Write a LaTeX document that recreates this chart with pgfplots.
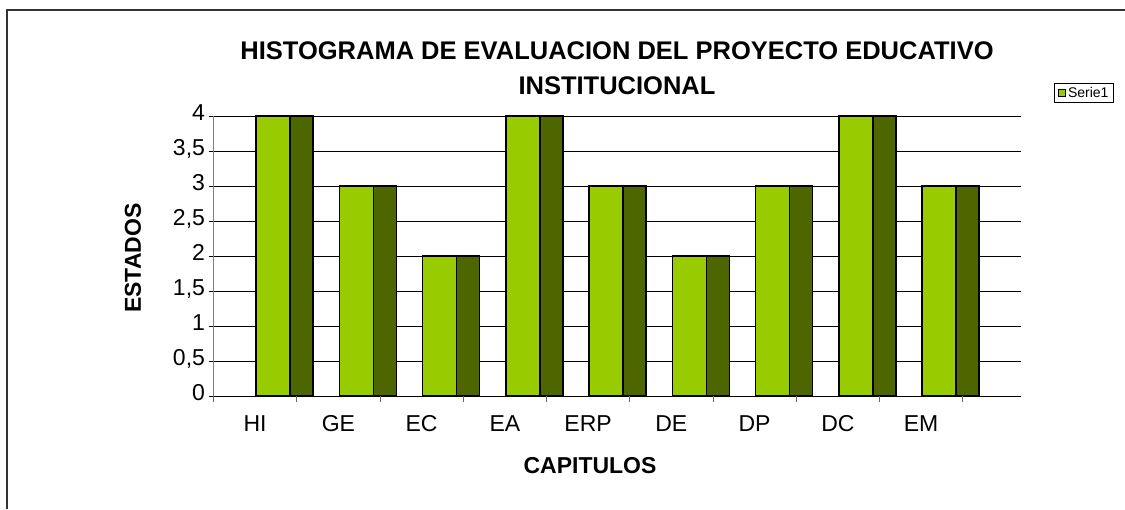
\documentclass[border=0pt]{standalone}
\usepackage{fontspec}
\setmainfont{Liberation Sans}
\usepackage{pgfplots}
\pgfplotsset{compat=1.18}
\definecolor{barfront}{HTML}{99CC00}
\definecolor{barside}{HTML}{4D6600}
\begin{document}
\begin{tikzpicture}[x=1pt,y=1pt]
\useasboundingbox (0pt,0pt) rectangle (1125pt,509pt);
\draw[line width=1.6pt, black!80] (7pt,0pt) -- (7pt,499pt) -- (1125pt,499pt);
\begin{axis}[
  at={(213.5pt,113pt)}, anchor=south west,
  scale only axis, width=807.5pt, height=280pt,
  xmin=-0.5, xmax=9.2, ymin=0, ymax=4,
  axis x line*=bottom, axis y line*=left,
  x axis line style={black, line width=0.8pt, -},
  y axis line style={black!50, line width=0.8pt, -},
  xtick={0,...,8},
  xticklabels={HI,GE,EC,EA,ERP,DE,DP,DC,EM},
  xtick style={draw=none},
  extra x ticks={-0.5,0.5,...,8.5},
  extra x tick labels={},
  extra x tick style={xtick style={draw=black!60, line width=0.6pt}, tick align=outside, major tick length=6pt},
  ytick={0,0.5,...,4},
  ytick style={draw=black, line width=0.6pt},
  tick align=center, major tick length=10pt,
  ymajorgrids,
  grid style={black, line width=0.6pt},
  /pgf/number format/use comma,
  /pgf/number format/fixed,
  /pgf/number format/assume math mode=true,
  tick label style={font=\fontsize{23}{23}\selectfont},
  typeset ticklabels with strut,
  xticklabel style={yshift=-11pt},
  legend style={at={(1.078,1.082)}, anchor=center, draw=black, line width=0.8pt,
    font=\fontsize{14}{14}\selectfont, inner xsep=3pt, inner ysep=2pt},
  legend image code/.code={\draw[fill=barfront, draw=black, line width=1.5pt] (0pt,-3.5pt) rectangle (7pt,3.5pt);},
]
\addplot[ybar, bar width=23pt, bar shift=46.5pt, fill=barside, draw=black, line width=1.6pt, forget plot]
  coordinates {(0,4) (1,3) (2,2) (3,4) (4,3) (5,2) (6,3) (7,4) (8,3)};
\addplot[ybar, bar width=34pt, bar shift=18pt, fill=barfront, draw=black, line width=1.6pt]
  coordinates {(0,4) (1,3) (2,2) (3,4) (4,3) (5,2) (6,3) (7,4) (8,3)};
\addlegendentry{Serie1}
\end{axis}
\node[font=\fontsize{25.5}{25.5}\bfseries\selectfont] at (617pt,458pt) {HISTOGRAMA DE EVALUACION DEL PROYECTO EDUCATIVO};
\node[font=\fontsize{25.5}{25.5}\bfseries\selectfont] at (617pt,423pt) {INSTITUCIONAL};
\node[font=\fontsize{23}{23}\bfseries\selectfont] at (590pt,43pt) {CAPITULOS};
\node[font=\fontsize{23}{23}\bfseries\selectfont, rotate=90] at (133pt,251pt) {ESTADOS};
\end{tikzpicture}
\end{document}
